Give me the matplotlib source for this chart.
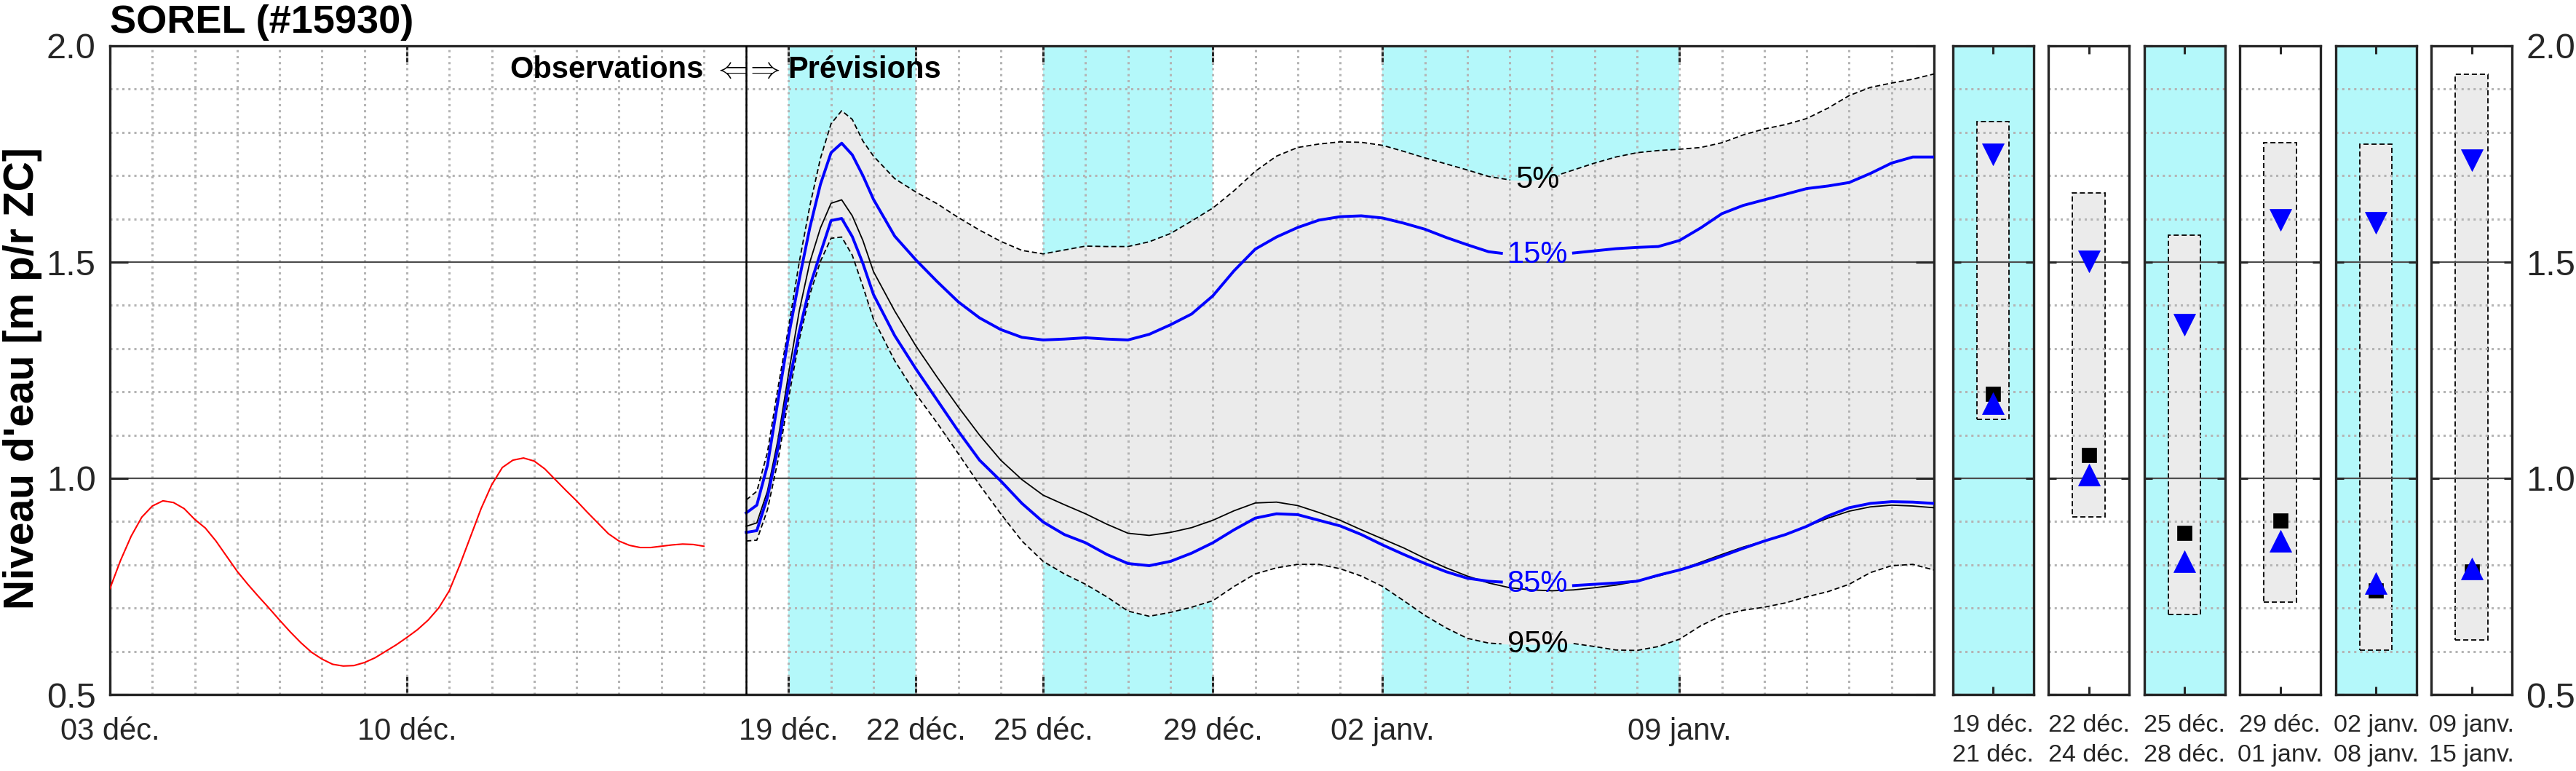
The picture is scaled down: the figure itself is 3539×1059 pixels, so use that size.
import numpy as np
import matplotlib
matplotlib.use("Agg")
import matplotlib.pyplot as plt
from matplotlib.ticker import MultipleLocator, FixedLocator, FormatStrFormatter
from matplotlib.patches import Rectangle

plt.rcParams['font.family'] = ['Liberation Sans', 'DejaVu Sans']

# ---------------- data ----------------
T0 = np.datetime64('2023-12-03T00:00')

# observed water level, every 6 h from 03 déc. 00h
obs_level = [0.745, 0.810, 0.866, 0.910, 0.936, 0.948, 0.944, 0.930, 0.905, 0.885,
             0.855, 0.820, 0.785, 0.755, 0.727, 0.700, 0.672, 0.645, 0.620, 0.598,
             0.582, 0.570, 0.566, 0.567, 0.574, 0.585, 0.600, 0.615, 0.632, 0.650,
             0.672, 0.700, 0.740, 0.800, 0.865, 0.930, 0.985, 1.025, 1.042, 1.047,
             1.040, 1.022, 0.997, 0.972, 0.948, 0.922, 0.897, 0.872, 0.855, 0.845,
             0.840, 0.840, 0.843, 0.846, 0.848, 0.847, 0.843]
obs_step_h = 6

# forecast: 6-hourly from 18 déc. 00h to 21 déc. 00h, then 12-hourly to 15 janv.
fc_start = '2023-12-18T00:00'
fc_hours = np.concatenate([np.arange(0, 73, 6), np.arange(84, 673, 12)])

p05 = [0.950, 0.970, 1.060, 1.210, 1.350, 1.500, 1.630, 1.740, 1.820, 1.850, 1.830, 1.780, 1.745,
       1.693, 1.662, 1.635, 1.603, 1.574, 1.548, 1.527, 1.519, 1.528, 1.537, 1.536, 1.536, 1.547,
       1.566, 1.595, 1.625, 1.665, 1.710, 1.745, 1.765, 1.773, 1.778, 1.777, 1.770, 1.756, 1.741,
       1.727, 1.713, 1.698, 1.690, 1.688, 1.697, 1.713, 1.729, 1.743, 1.753, 1.758, 1.761, 1.765,
       1.776, 1.794, 1.808, 1.818, 1.832, 1.856, 1.885, 1.904, 1.914, 1.923, 1.935]
p15 = [0.920, 0.938, 1.030, 1.180, 1.330, 1.460, 1.580, 1.680, 1.753, 1.775, 1.748, 1.700, 1.645,
       1.560, 1.505, 1.455, 1.408, 1.371, 1.344, 1.326, 1.320, 1.322, 1.325, 1.322, 1.320, 1.333,
       1.355, 1.380, 1.422, 1.480, 1.530, 1.558, 1.580, 1.597, 1.605, 1.607, 1.602, 1.590, 1.576,
       1.557, 1.540, 1.524, 1.518, 1.517, 1.519, 1.521, 1.526, 1.531, 1.534, 1.536, 1.550, 1.579,
       1.612, 1.631, 1.644, 1.657, 1.670, 1.676, 1.684, 1.705, 1.729, 1.743, 1.743]
p50 = [0.889, 0.897, 0.970, 1.090, 1.243, 1.387, 1.500, 1.579, 1.636, 1.644, 1.607, 1.550, 1.478,
       1.387, 1.306, 1.234, 1.165, 1.100, 1.042, 0.997, 0.961, 0.939, 0.918, 0.894, 0.873, 0.868,
       0.875, 0.886, 0.903, 0.925, 0.943, 0.945, 0.937, 0.921, 0.903, 0.881, 0.860, 0.839, 0.815,
       0.793, 0.774, 0.758, 0.747, 0.742, 0.740, 0.742, 0.747, 0.753, 0.762, 0.774, 0.788, 0.806,
       0.824, 0.841, 0.855, 0.870, 0.889, 0.908, 0.924, 0.934, 0.938, 0.936, 0.932]
p85 = [0.875, 0.879, 0.956, 1.071, 1.215, 1.339, 1.444, 1.521, 1.596, 1.601, 1.559, 1.497, 1.425,
       1.330, 1.253, 1.181, 1.109, 1.042, 0.994, 0.942, 0.899, 0.870, 0.851, 0.824, 0.803, 0.798,
       0.808, 0.827, 0.851, 0.881, 0.908, 0.918, 0.916, 0.903, 0.890, 0.870, 0.846, 0.824, 0.803,
       0.784, 0.769, 0.762, 0.759, 0.756, 0.754, 0.752, 0.755, 0.758, 0.762, 0.776, 0.788, 0.803,
       0.820, 0.838, 0.855, 0.870, 0.889, 0.913, 0.932, 0.942, 0.946, 0.945, 0.942]
p95 = [0.855, 0.857, 0.927, 1.042, 1.186, 1.320, 1.425, 1.502, 1.555, 1.558, 1.516, 1.444, 1.368,
       1.272, 1.195, 1.128, 1.057, 0.985, 0.918, 0.855, 0.808, 0.779, 0.755, 0.726, 0.693, 0.681,
       0.690, 0.702, 0.717, 0.750, 0.779, 0.793, 0.801, 0.801, 0.791, 0.774, 0.750, 0.717, 0.683,
       0.654, 0.630, 0.619, 0.616, 0.616, 0.617, 0.618, 0.611, 0.603, 0.602, 0.611, 0.628, 0.659,
       0.683, 0.695, 0.702, 0.712, 0.726, 0.738, 0.755, 0.782, 0.798, 0.801, 0.788]

# summary periods
per_start = ['2023-12-19', '2023-12-22', '2023-12-25', '2023-12-29', '2024-01-02', '2024-01-09']
per_end = ['2023-12-21', '2023-12-24', '2023-12-28', '2024-01-01', '2024-01-08', '2024-01-15']
per_lab_start = ['19 déc.', '22 déc.', '25 déc.', '29 déc.', '02 janv.', '09 janv.']
per_lab_end = ['21 déc.', '24 déc.', '28 déc.', '01 janv.', '08 janv.', '15 janv.']
per_shaded = [True, False, True, False, True, False]
box_top = [1.825, 1.660, 1.562, 1.776, 1.772, 1.935]
box_bot = [1.136, 0.910, 0.685, 0.714, 0.602, 0.626]
tri_down = [1.750, 1.501, 1.355, 1.598, 1.591, 1.736]
square = [1.196, 1.054, 0.874, 0.902, 0.740, 0.785]
tri_up = [1.173, 1.009, 0.808, 0.855, 0.757, 0.792]

# main x ticks
tick_dates = ['2023-12-03', '2023-12-10', '2023-12-19', '2023-12-22', '2023-12-25',
              '2023-12-29', '2024-01-02', '2024-01-09']
tick_labels = ['03 déc.', '10 déc.', '19 déc.', '22 déc.', '25 déc.', '29 déc.', '02 janv.', '09 janv.']
x_end = '2024-01-15'

# ---------------- helpers ----------------
def day(d):
    return (np.datetime64(d) - T0) / np.timedelta64(1, 'D')

obs_days = np.arange(len(obs_level)) * obs_step_h / 24.0
fc_days = day(fc_start) + fc_hours / 24.0

CYAN = '#b4f8fa'
GRAY = '#ebebeb'
DARK = '#262626'

W, H = 3539, 1059
def fr(x0, y0, x1, y1):
    return [x0 / W, 1 - y1 / H, (x1 - x0) / W, (y1 - y0) / H]


def plot_with_gap(ax, x, y, gap, **kw):
    """Plot a curve, leaving an opening [gap[0], gap[1]] for an inline label."""
    x = np.asarray(x, float)
    y = np.asarray(y, float)
    a, b = gap
    left = x < a
    right = x > b
    ax.plot(np.r_[x[left], a], np.r_[y[left], np.interp(a, x, y)], **kw)
    ax.plot(np.r_[b, x[right]], np.r_[np.interp(b, x, y), y[right]], **kw)


fig = plt.figure(figsize=(W / 100, H / 100), dpi=100)

# ---------------- main axes ----------------
ax = fig.add_axes(fr(151, 63, 2657, 954))
ax.set_xlim(0, day(x_end))
ax.set_ylim(0.5, 2.0)

for s, e, sh in zip(per_start, per_end, per_shaded):
    if sh:
        ax.axvspan(day(s), day(e) + 1, color=CYAN, lw=0, zorder=0)

ax.fill_between(fc_days, p05, p95, color=GRAY, lw=0, zorder=1)
ax.plot(obs_days, obs_level, color='#ff0000', lw=1.5, zorder=3)

lab_day = day('2024-01-05T15:40')
gap_narrow = (lab_day - 0.64, lab_day + 0.56)
gap_wide = (lab_day - 0.85, lab_day + 0.85)
dash = (3.9, 2.2)
plot_with_gap(ax, fc_days, p05, gap_narrow, color='k', lw=1.3, ls=(0, dash), zorder=3)
plot_with_gap(ax, fc_days, p95, gap_wide, color='k', lw=1.3, ls=(0, dash), zorder=3)
ax.plot(fc_days, p50, color='k', lw=1.3, zorder=3)
plot_with_gap(ax, fc_days, p15, gap_wide, color='#0000ff', lw=2.8, zorder=4)
plot_with_gap(ax, fc_days, p85, gap_wide, color='#0000ff', lw=2.8, zorder=4)
ax.axvline(day(fc_start), color='k', lw=1.8, zorder=5)

# curve labels
for vals, txt, col in [(p05, '5%', 'k'), (p15, '15%', '#0000ff'),
                       (p85, '85%', '#0000ff'), (p95, '95%', 'k')]:
    yv = np.interp(lab_day, fc_days, vals)
    ax.text(lab_day, yv, txt, color=col, fontsize=30, ha='center', va='center', zorder=6)

# observation / forecast text
yt = 1.926
xf = day(fc_start)
ax.annotate('Observations', (xf, yt), xytext=(-42, 0), textcoords='offset points',
            ha='right', va='baseline', fontsize=30, fontweight='bold', zorder=7)
ax.annotate('Prévisions', (xf, yt), xytext=(41, 0), textcoords='offset points',
            ha='left', va='baseline', fontsize=30, fontweight='bold', zorder=7)
ax.text(xf, yt, r'$\Leftarrow\!\!\Rightarrow$', ha='center', va='baseline', fontsize=30,
        math_fontfamily='cm', zorder=7)

# ticks & grid
ax.set_axisbelow('line')
ax.xaxis.set_major_locator(FixedLocator([day(d) for d in tick_dates]))
ax.set_xticklabels(tick_labels)
ax.xaxis.set_minor_locator(MultipleLocator(1))
ax.xaxis.remove_overlapping_locs = False
ax.yaxis.set_major_locator(MultipleLocator(0.5))
ax.yaxis.set_minor_locator(MultipleLocator(0.1))
ax.yaxis.set_major_formatter(FormatStrFormatter('%.1f'))
ax.grid(True, which='minor', axis='both', color='#b4b4b4', lw=2.2, ls=(0, (1, 1.7)))
ax.grid(True, which='major', axis='y', color='#4d4d4d', lw=1.6, ls='-')
ax.grid(False, which='major', axis='x')
ax.tick_params(which='major', direction='in', length=18, width=2.2, color=DARK,
               top=True, right=True, labelcolor=DARK)
ax.tick_params(which='minor', length=0)
ax.tick_params(axis='x', labelsize=30, pad=22)
ax.tick_params(axis='y', labelsize=35, pad=14)
for sp in ax.spines.values():
    sp.set_color(DARK)
    sp.set_linewidth(2.4)

# ---------------- period panels ----------------
for i in range(len(per_start)):
    x0 = 2682.5 + i * 131.5
    axp = fig.add_axes(fr(x0, 63, x0 + 111, 954))
    axp.set_xlim(0, 1)
    axp.set_ylim(0.5, 2.0)
    if per_shaded[i]:
        axp.set_facecolor(CYAN)
    axp.add_patch(Rectangle((0.3, box_bot[i]), 0.4, box_top[i] - box_bot[i], fc=GRAY,
                            ec='k', lw=1.3, ls=(0, dash), zorder=1))
    axp.plot([0.5], [square[i]], 's', color='k', ms=15, mew=0.5, zorder=3)
    axp.plot([0.5], [tri_down[i]], 'v', color='#0000ff', ms=21, mew=0.5, zorder=4)
    axp.plot([0.5], [tri_up[i]], '^', color='#0000ff', ms=21, mew=0.5, zorder=4)
    axp.set_axisbelow('line')
    axp.set_xticks([0.5])
    axp.set_xticklabels([per_lab_start[i] + '\n' + per_lab_end[i]], linespacing=1.4)
    axp.yaxis.set_major_locator(MultipleLocator(0.5))
    axp.yaxis.set_minor_locator(MultipleLocator(0.1))
    axp.yaxis.set_major_formatter(FormatStrFormatter('%.1f'))
    axp.grid(True, which='minor', axis='y', color='#b4b4b4', lw=2.2, ls=(0, (1, 1.7)))
    axp.grid(True, which='major', axis='y', color='#4d4d4d', lw=1.6, ls='-')
    axp.tick_params(which='major', direction='in', length=8, width=2.2, color=DARK,
                    top=True, right=True, labelcolor=DARK, labelleft=False)
    axp.tick_params(which='minor', length=0)
    axp.tick_params(axis='x', labelsize=24.5, pad=19.5)
    axp.tick_params(axis='y', labelsize=35, pad=14, labelright=(i == len(per_start) - 1))
    for sp in axp.spines.values():
        sp.set_color(DARK)
        sp.set_linewidth(2.4)

# ---------------- titles ----------------
fig.text(151 / W, 1 - 45 / H, 'SOREL (#15930)', fontsize=39, fontweight='bold',
         ha='left', va='baseline')
fig.text(0.001, 0.509, "Niveau d'eau [m p/r ZC]", rotation=90, fontsize=41,
         fontweight='bold', ha='left', va='center')

fig.savefig('out.png', dpi=100)
